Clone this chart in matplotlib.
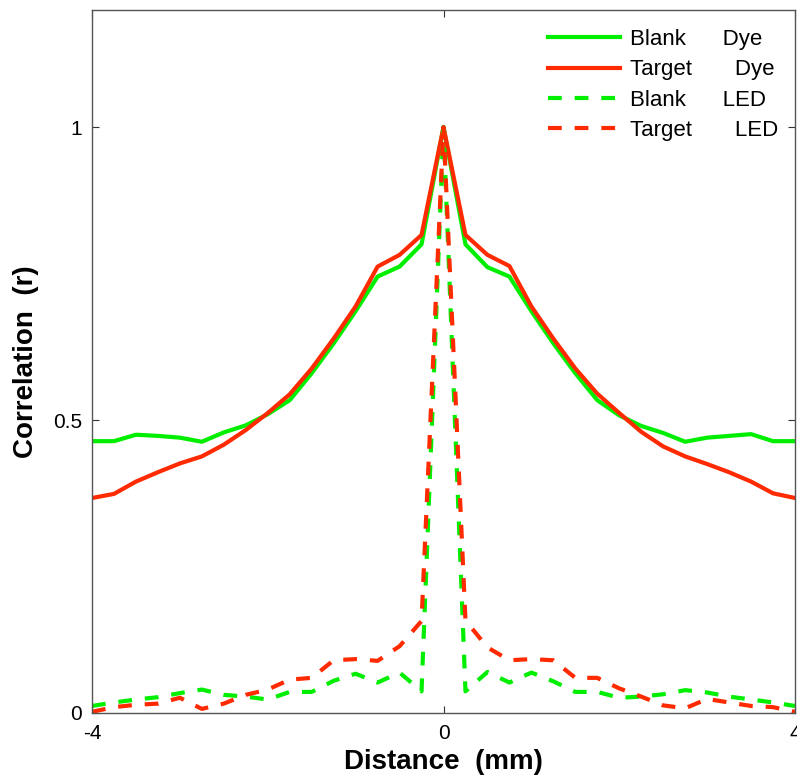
import matplotlib.pyplot as plt
import numpy as np

plt.rcParams["font.family"] = ["Liberation Sans", "DejaVu Sans"]

# distance (mm), sampled every 0.25 mm
distance = [-4.0, -3.75, -3.5, -3.25, -3.0, -2.75, -2.5, -2.25, -2.0, -1.75, -1.5,
            -1.25, -1.0, -0.75, -0.5, -0.25, 0.0, 0.25, 0.5, 0.75, 1.0, 1.25,
            1.5, 1.75, 2.0, 2.25, 2.5, 2.75, 3.0, 3.25, 3.5, 3.75, 4.0]

blank_dye = [0.464, 0.464, 0.475, 0.473, 0.470, 0.463, 0.479, 0.491, 0.510, 0.534, 0.580,
             0.631, 0.686, 0.745, 0.762, 0.800, 1.000, 0.800, 0.761, 0.745, 0.686, 0.631,
             0.580, 0.534, 0.508, 0.490, 0.478, 0.463, 0.470, 0.473, 0.476, 0.464, 0.464]

target_dye = [0.367, 0.374, 0.395, 0.411, 0.426, 0.438, 0.458, 0.483, 0.512, 0.544, 0.588,
              0.639, 0.694, 0.762, 0.782, 0.816, 1.000, 0.816, 0.782, 0.763, 0.694, 0.639,
              0.588, 0.545, 0.512, 0.480, 0.455, 0.438, 0.425, 0.411, 0.395, 0.375, 0.367]

blank_led = [0.012, 0.018, 0.023, 0.027, 0.034, 0.040, 0.031, 0.028, 0.023, 0.036, 0.036,
             0.055, 0.067, 0.052, 0.069, 0.037, 1.000, 0.037, 0.070, 0.052, 0.069, 0.054,
             0.036, 0.036, 0.026, 0.028, 0.032, 0.039, 0.035, 0.028, 0.023, 0.018, 0.012]

target_led = [0.002, 0.010, 0.014, 0.016, 0.026, 0.007, 0.016, 0.031, 0.040, 0.057, 0.060,
              0.090, 0.092, 0.089, 0.114, 0.157, 1.000, 0.158, 0.112, 0.090, 0.092, 0.090,
              0.060, 0.060, 0.042, 0.028, 0.013, 0.008, 0.024, 0.018, 0.012, 0.010, 0.002]

labels = ["Blank      Dye", "Target       Dye", "Blank      LED", "Target       LED"]

green = "#00ee00"
red = "#ff2a00"
lw = 3.0
dash = (3.3, 3.1)

fig = plt.figure(figsize=(7.97, 7.82), dpi=100)
ax = fig.add_axes([92 / 797, 1 - 713 / 782, 703 / 797, 703 / 782])

ax.plot(distance, blank_dye, color=green, lw=lw, label=labels[0])
ax.plot(distance, target_dye, color=red, lw=lw, label=labels[1])
ax.plot(distance, blank_led, color=green, lw=lw, dashes=dash, dash_capstyle="butt",
        label=labels[2])
ax.plot(distance, target_led, color=red, lw=lw, dashes=dash, dash_capstyle="butt",
        label=labels[3])

ax.set_xlim(-4, 4)
ax.set_ylim(0, 1.2)
ax.set_xticks([-4, 0, 4])
ax.set_xticklabels(["-4", "0", "4"])
ax.set_yticks([0, 0.5, 1])
ax.set_yticklabels(["0", "0.5", "1"])

for s in ax.spines.values():
    s.set_color("#555555")
    s.set_linewidth(1.0)
ax.tick_params(direction="in", length=5, width=0.8, color="#333333",
               top=True, right=True, labelsize=15)
ax.tick_params(axis="x", pad=8)
ax.tick_params(axis="y", pad=7)

ax.set_xlabel("Distance  (mm)", fontsize=20, fontweight="bold", labelpad=4)
ax.set_ylabel("Correlation  (r)", fontsize=20, fontweight="bold", labelpad=10)

ax.legend(loc="upper left", bbox_to_anchor=(548 / 797, 1 - 29 / 782),
          bbox_transform=fig.transFigure, frameon=False, fontsize=16,
          handlelength=3.25, handletextpad=0.45, labelspacing=0.42,
          borderpad=0, borderaxespad=0)

fig.savefig("out.png", dpi=100)
